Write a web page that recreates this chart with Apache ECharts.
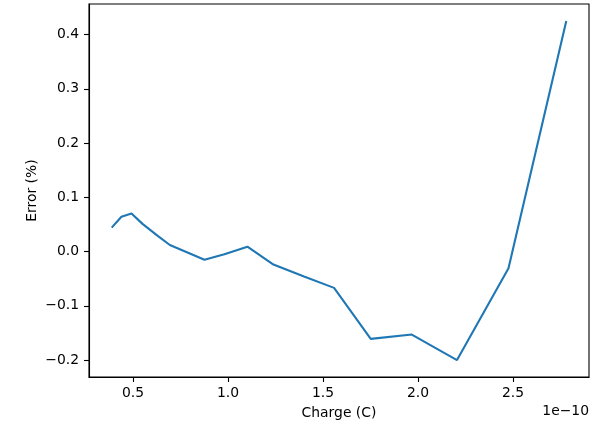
<!DOCTYPE html>
<html>
<head>
<meta charset="utf-8">
<script src="https://cdn.jsdelivr.net/npm/echarts@6/dist/echarts.min.js"></script>
<style>
  html, body { margin: 0; padding: 0; background: #fff; }
  #chart { width: 608px; height: 427px; }
</style>
</head>
<body>
<div id="chart"></div>
<script>
// Charge in units of 1e-10 C
const charge = [0.388, 0.439, 0.492, 0.55, 0.63, 0.694, 0.876, 0.981, 1.102, 1.239, 1.40, 1.558, 1.751, 1.967, 2.205, 2.476, 2.780];
// Relative error in percent
const errorPct = [0.044, 0.064, 0.070, 0.051, 0.029, 0.012, -0.015, -0.005, 0.009, -0.024, -0.046, -0.067, -0.161, -0.153, -0.200, -0.031, 0.425];
const xTicks = [0.5, 1.0, 1.5, 2.0, 2.5];
const yTicks = [-0.2, -0.1, 0.0, 0.1, 0.2, 0.3, 0.4];

// 5% padding around the data range on each axis
function padded(arr) {
  const lo = Math.min(...arr), hi = Math.max(...arr);
  const pad = (hi - lo) * 0.05;
  return [lo - pad, hi + pad];
}
const [xMin, xMax] = padded(charge);
const [yMin, yMax] = padded(errorPct);

const fmt = v => v.toFixed(1).replace('-', '\u2212');
const FONT = 'DejaVu Sans';
const FS = 13.9;
const INK = '#000';

const chart = echarts.init(document.getElementById('chart'), null, { renderer: 'canvas' });
chart.setOption({
  animation: false,
  backgroundColor: '#ffffff',
  grid: {
    left: 89, right: 19, top: 4, bottom: 50,
    show: true, borderColor: INK, borderWidth: 1.1, backgroundColor: 'transparent'
  },
  xAxis: {
    type: 'value', min: xMin, max: xMax,
    name: 'Charge (C)', nameLocation: 'middle', nameGap: 29, nameMoveOverlap: false,
    nameTextStyle: { fontFamily: FONT, fontSize: FS, color: INK },
    axisLine: { show: true, onZero: false, lineStyle: { color: INK, width: 1.1 } },
    splitLine: { show: false },
    axisTick: { show: true, customValues: xTicks, length: 5, lineStyle: { color: INK, width: 1.1 } },
    axisLabel: { customValues: xTicks, formatter: fmt, margin: 9, fontFamily: FONT, fontSize: FS, color: INK }
  },
  yAxis: {
    type: 'value', min: yMin, max: yMax,
    name: 'Error (%)', nameLocation: 'middle', nameGap: 50, nameRotate: 90, nameMoveOverlap: false,
    nameTextStyle: { fontFamily: FONT, fontSize: FS, color: INK },
    axisLine: { show: true, onZero: false, lineStyle: { color: INK, width: 1.1 } },
    splitLine: { show: false },
    axisTick: { show: true, customValues: yTicks, length: 5, lineStyle: { color: INK, width: 1.1 } },
    axisLabel: { customValues: yTicks, formatter: fmt, margin: 10, fontFamily: FONT, fontSize: FS, color: INK }
  },
  graphic: [{
    type: 'text', right: 19, top: 404,
    style: { text: '1e\u221210', fontFamily: FONT, fontSize: FS, fill: INK }
  }],
  series: [{
    type: 'line',
    data: charge.map((c, i) => [c, errorPct[i]]),
    showSymbol: false,
    lineStyle: { color: '#1f77b4', width: 2.1 },
    itemStyle: { color: '#1f77b4' }
  }]
});
</script>
</body>
</html>
